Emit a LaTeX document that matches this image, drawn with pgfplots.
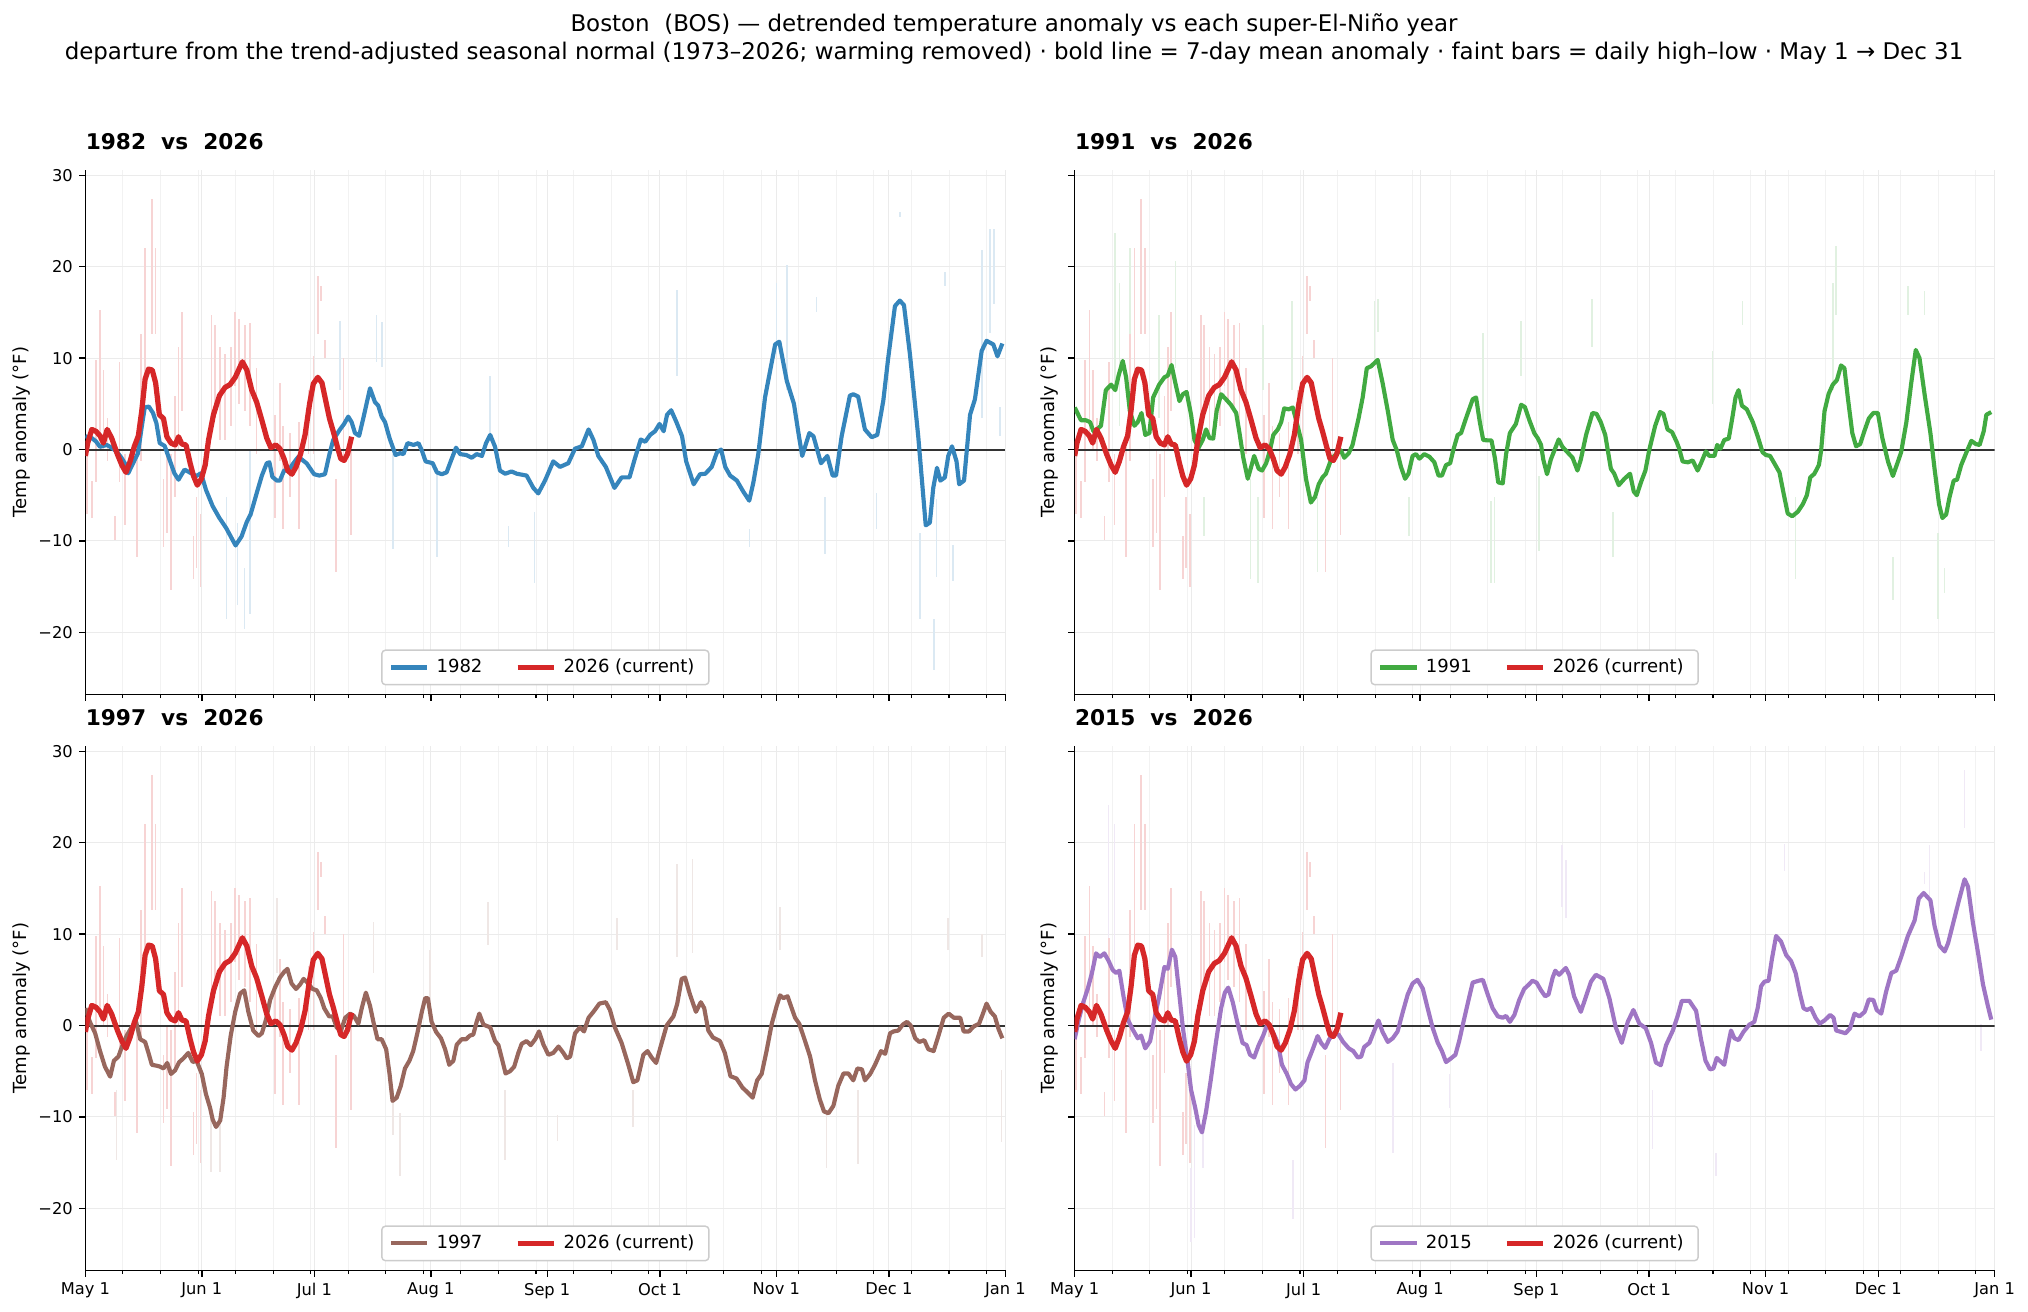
\documentclass[border=0pt]{standalone}
\usepackage{pgfplots}
\pgfplotsset{compat=1.18}
\usepackage{pgfplotstable}
\usepackage{fontspec}
\setmainfont{DejaVu Sans}

\definecolor{cblue}{HTML}{3585BC}
\definecolor{cgreen}{HTML}{41AA41}
\definecolor{cbrown}{HTML}{98675D}
\definecolor{cpurple}{HTML}{9F76C4}
\definecolor{cred}{HTML}{D62728}

% ---- 7-day mean anomaly, 2026 ----
\pgfplotstableread{
d v
0 -0.7
0.6 0.7
1.7 2.2
2.8 2.0
3.9 1.5
4.8 0.7
5.8 2.2
7 1.25
8.5 -0.5
9.7 -1.7
10.8 -2.5
11.9 -1.3
13 0.3
14.1 1.5
15 4.2
15.9 7.7
16.8 8.8
17.8 8.7
18.7 7.3
19.7 3.8
20.8 3.4
21.7 1.4
22.8 0.7
23.9 0.5
24.8 1.4
25.7 0.6
26.8 0.5
27.9 -1.5
28.8 -2.9
29.8 -3.9
30.9 -3.2
31.9 -1.7
32.8 1.05
34.1 3.8
35.7 5.9
37.2 6.8
38.5 7.1
39.9 7.9
41.8 9.6
43 8.7
44.3 6.5
45.6 5.2
47 3.2
48.3 1.25
49.4 0.2
50.7 0.5
51.8 0.1
52.9 -1.0
53.9 -2.3
55 -2.7
56.1 -1.9
57.3 -0.5
58.5 1.6
59.7 5.0
60.7 7.2
61.9 7.9
63 7.3
64 5.35
65 3.4
66 2.0
67.1 0.3
68 -1.0
68.9 -1.2
69.8 -0.5
70.9 1.4
}\tabred

% ---- daily high-low bars, 2026 ----
\pgfplotstableread{
d lo hi
0.4 -7.1 1.25
1.7 -7.5 -3.4
2.8 -3.6 9.8
3.9 1.4 15.3
4.8 -0.1 8.7
5.9 -1.3 3.4
7.9 -9.9 -7.3
9.1 -3.6 9.6
10.6 -8.3 -0.5
13.7 -11.8 0.3
14.8 -1.3 12.6
15.9 6.5 22.1
17.7 12.6 27.4
18.7 12.6 22.1
20.8 -10.7 -3.2
21.8 -9.1 -0.1
22.8 -15.4 -0.5
23.9 -5.2 5.9
24.8 -0.1 11.2
25.7 4.2 15.1
28.8 -14.2 -9.5
29.6 -13 -5.2
30.7 -15 -7.1
33.6 2.6 14.7
34.5 3.4 13.6
35.9 1.05 11.2
37.2 1.05 10.4
38.7 2.6 11.2
39.9 6.9 15.1
40.9 5.0 14.3
42.5 4.2 13.6
43.9 2.6 13.9
45.6 -0.5 8.9
50.5 -7.5 3.8
51.8 -1.3 7.3
52.7 -8.7 2.6
54.5 -5.2 1.8
56.9 -8.7 3.0
59.4 -0.5 6.5
60.7 -0.5 10.2
61.9 12.6 19
62.7 16.3 17.9
63.8 10 12
66.8 -13.4 -3.2
68.7 -1.3 10
70.8 -9.3 1.4
}\barred

% ---- 1982 ----
\pgfplotstableread{
d v
0 1.45
1.7 1.25
2.8 0.9
3.9 0.3
5.7 0.5
7 0.2
8.5 -0.3
9.6 -0.9
10.5 -1.5
11.4 -2.6
12.7 -1.5
14 -0.4
14.9 2.2
15.8 4.6
16.9 4.7
18 4.0
18.9 2.9
19.8 0.7
21.1 0.4
22.4 -1.1
23.7 -2.6
24.8 -3.3
26.4 -2.2
28.2 -2.6
29.5 -2.9
30.8 -2.6
32.1 -4.4
33.9 -6.2
35.7 -7.5
37.5 -8.6
40 -10.5
41.6 -9.5
43 -7.9
44 -7.1
45.6 -4.8
47 -2.85
48.3 -1.5
49 -1.4
49.8 -3.0
51 -3.4
51.8 -3.4
52.9 -2.3
54.1 -2.3
55.4 -1.5
56.7 -0.8
58.9 -1.5
60.9 -2.7
62.3 -2.85
63.8 -2.7
65 -0.5
66 1.05
67.8 2.2
68.9 2.8
70 3.6
70.9 3.0
71.8 1.8
72.9 1.5
74 3.4
75.8 6.7
77.1 5.2
78 4.8
78.9 3.6
79.8 3.0
81 1.25
82.6 -0.6
83.8 -0.4
84.7 -0.5
85.8 0.7
87.4 0.5
88.7 0.7
89.6 -0.1
90.6 -1.3
92.5 -1.5
93.6 -2.5
94.9 -2.7
96.2 -2.5
97.1 -1.5
98.7 0.2
99.8 -0.5
101.4 -0.6
102.9 -0.9
104.2 -0.5
105.6 -0.7
106.7 0.7
107.8 1.6
109.1 0.3
110.4 -2.3
111.8 -2.65
113.5 -2.4
114.9 -2.65
117.5 -2.85
119.3 -4.2
120.6 -4.8
122.4 -3.4
124.6 -1.3
126.4 -1.9
128.6 -1.5
130.4 0.1
132.2 0.35
134 2.2
135.3 1.05
136.6 -0.7
138.6 -1.9
140.9 -4.2
142.8 -3.05
144.9 -3.05
146.4 -0.9
147.9 1.1
149.1 0.85
150.4 1.6
151.7 2.0
152.9 2.8
154 2.0
154.9 3.8
156 4.3
157.4 3.0
158.9 1.45
160 -1.3
162 -3.8
163.7 -2.7
165.1 -2.65
166.8 -1.9
168.2 -0.3
169.3 0
170.4 -1.9
171.7 -2.85
173.5 -3.4
175.2 -4.6
176.8 -5.6
177.9 -3.6
179.2 -0.5
181 5.7
182.3 8.5
183.7 11.5
184.8 11.8
186.8 7.5
188.7 5.0
189.9 1.8
190.9 -0.7
192.8 1.8
193.9 1.45
195.9 -1.5
197.6 -0.7
199 -2.85
199.9 -2.85
201.4 1.45
203.6 5.9
204.5 6.05
205.8 5.8
207.6 2.2
209.4 1.35
210.9 1.6
212.5 5.35
213.8 10.0
215.6 15.7
216.9 16.3
218 15.8
219.6 10.4
221.8 1.45
223.8 -8.3
224.9 -8.0
225.8 -4.2
226.8 -2.0
227.7 -3.4
228.9 -3.05
229.8 -0.7
230.8 0.35
232 -1.3
232.7 -3.8
234 -3.4
235.6 3.8
236.9 5.5
238.7 10.8
240 11.9
241.8 11.5
242.9 10.2
244.2 11.6
}\tabA
\pgfplotstableread{
d lo hi
37.6 -18.5 -5.2
40.5 -17 -8
42.4 -19.6 -13
43.9 -18 0
67.8 6.5 14.1
77.5 9.6 14.7
79 9 14
82 -10.9 -0.5
93.6 -11.8 -2
107.8 1.8 8.1
112.7 -10.7 -8.4
119.6 -14.6 -6.8
157.6 8.1 17.5
176.9 -10.7 -8.7
184.1 10.4 18.2
186.8 6.5 20.2
194.7 15.1 16.7
196.9 -11.4 -5.2
210.7 -8.7 -4.8
216.9 25.5 26
222.3 -18.5 -9.1
226 -24.1 -18.5
226.7 -14 -5.4
228.9 17.9 19.4
231.1 -14.4 -10.5
238.7 3.4 21.8
240.9 12.8 24.1
241.9 15.9 24.1
243.5 1.5 4.6
}\barA

% ---- 1991 ----
\pgfplotstableread{
d v
0 4.6
1.7 3.2
3 3.2
4.1 3.0
5 2.0
5.9 2.2
7 2.6
8.3 6.5
9.7 7.1
10.8 6.5
11.7 8.1
12.8 9.7
13.7 7.9
14.7 4.2
15.9 2.6
16.8 3.0
17.8 4.0
18.8 1.6
19.9 1.8
20.9 5.7
22.5 7.1
23.9 7.9
24.8 8.1
25.8 9.25
26.8 7.3
27.9 5.3
28.8 6.05
29.8 6.3
31 3.8
31.9 1.05
33 0.2
34.1 1.05
35 2.2
35.9 1.25
36.9 1.2
37.8 4.2
39 6.05
40.3 5.5
41.6 4.9
43 4.0
43.9 1.8
44.9 -0.9
46.1 -3.2
47 -1.9
47.8 -0.7
49 -2.1
49.9 -2.3
51 -1.5
52 -0.1
52.9 1.6
54.1 2.2
55 3.0
55.8 4.5
57 4.4
58.1 4.6
59.1 3.0
60.3 1.05
61.6 -3.2
62.9 -5.8
64 -5.2
65 -3.8
66 -3.05
66.9 -2.65
68.3 -1.1
69.6 -0.5
70.9 -0.1
71.8 -0.9
73 -0.4
74 0.5
75.6 3.4
76.7 5.7
77.8 8.9
78.9 9.1
79.8 9.45
80.7 9.8
82 7.3
83.4 4.2
84.7 1.05
85.8 -0.1
86.9 -1.9
88 -3.2
88.9 -2.65
90 -0.7
90.9 -0.5
91.8 -1.0
93.1 -0.5
94.5 -0.8
95.8 -1.4
96.9 -2.85
97.8 -2.85
98.9 -1.7
100 -1.5
100.8 -0.1
102 1.6
102.9 1.8
104.2 3.4
106 5.5
106.9 5.7
107.9 3.0
108.8 1.05
110 1.0
111 1.0
111.9 -0.9
112.8 -3.6
114 -3.7
114.9 -0.5
115.9 1.8
117.5 2.8
118.9 4.9
119.9 4.65
121.1 3.2
122.4 1.8
123.3 1.25
124.2 0.5
124.8 -1.1
125.8 -2.7
126.8 -1.1
128.9 1.1
129.9 0.3
131.7 -0.5
132.6 -0.9
133.9 -2.3
134.8 -1.1
136.2 1.6
137.9 4.0
139 3.9
140.1 3.0
141.3 1.6
142.8 -2.1
143.7 -2.65
144.9 -3.9
146.4 -3.2
147.9 -2.65
148.9 -4.6
149.7 -5.0
150.8 -3.6
152 -2.3
153 -0.1
154.6 2.6
155.9 4.1
156.8 3.9
157.9 2.2
159.1 1.9
160.3 0.85
161 0.1
161.9 -1.3
163.3 -1.4
164.6 -1.2
165.9 -2.3
166.8 -1.5
168.1 -0.2
169 -0.7
170.4 -0.7
171.1 0.5
172 0.1
173 1.05
174.2 1.2
175.2 3.6
176 5.7
176.8 6.5
177.7 4.8
179 4.4
180.6 3.0
181.9 1.45
183.2 -0.3
184.1 -0.6
185.2 -0.7
186.6 -1.7
187.7 -2.5
188.8 -4.8
189.9 -7.0
191.1 -7.3
192.6 -6.8
193.9 -6.0
195 -5.0
195.9 -3.05
197 -2.65
198.2 -1.7
198.8 -0.1
199.7 4.2
200.8 6.1
201.9 7.1
203 7.6
204.1 9.2
205 8.9
205.9 5.7
207.1 1.8
208.1 0.35
209.2 0.6
210.3 2.0
211.5 3.4
212.7 4.0
213.9 4.0
215.1 1.25
216.6 -1.3
217.9 -2.9
219.1 -1.5
220.1 -0.3
221.5 3.0
222.8 7.3
224 10.9
225 10.0
226.4 5.9
227.9 1.8
229 -2.1
230.2 -6.0
231.1 -7.5
232.1 -7.1
233 -5.2
234.1 -3.4
235 -3.3
236.1 -1.7
237.5 -0.3
238.8 0.95
240 0.6
241 0.5
242.1 2.0
242.8 3.8
244.1 4.1
}\tabB
\pgfplotstableread{
d lo hi
10.8 6.5 23.7
11.9 2.6 18.2
14.8 10.4 22.1
22.5 3.4 14.7
26.8 8.9 20.6
34.5 -9.5 -5.2
46.8 -14.2 -3.2
48.9 -14.6 -5.2
50.1 6.5 13.6
57.8 6.5 16.3
64.7 -13.4 -5.2
79.8 9.6 16.3
80.7 12.9 16.5
89.1 -9.5 -5.2
108.7 2.6 12.8
110.9 -14.6 -5.6
111.8 -14.6 -5.2
118.9 8.1 14.1
123.7 -11.1 -2.9
137.8 11.2 16.5
143.4 -11.8 -6.8
169.9 5.0 10.8
177.9 13.6 16.3
192 -14.2 -5.2
201.9 6.5 18.2
202.8 14.7 22.3
217.9 -16.5 -11.8
221.9 14.7 17.9
226.3 14.7 17.3
229.9 -18.5 -9.1
231.7 -15.7 -13
}\barB

% ---- 1997 ----
\pgfplotstableread{
d v
0 1.9
1.2 0.4
2.6 -0.85
3.9 -2.8
5.2 -4.5
6.6 -5.6
7.6 -3.85
8.8 -3.4
9.7 -2.35
11 -1.1
12.3 -0.2
13.5 0.4
14.6 -1.5
15.9 -1.8
16.8 -3.0
17.7 -4.3
19 -4.4
19.9 -4.5
20.8 -4.7
21.8 -4.1
22.8 -5.3
23.9 -4.9
25 -4.0
26.1 -3.6
27.4 -3.0
28.6 -4.0
29.6 -3.85
31 -5.3
32.1 -7.5
33.2 -9.0
33.9 -10.3
34.8 -11.1
35.9 -10.4
36.8 -7.9
37.6 -4.5
38.7 -1.1
39.9 1.5
41.2 3.5
42.3 3.85
43.4 1.5
44.7 -0.55
46.1 -1.15
47 -0.85
48.1 0.65
49.2 2.8
50.5 4.15
51.8 5.25
52.9 5.85
53.8 6.2
54.9 4.6
56.1 4.0
57.2 4.5
58.1 5.1
59.1 4.7
60.5 4.0
61.6 3.85
62.7 3.0
63.6 1.9
64.9 1.0
65.9 1.0
66.9 -0.2
68 -0.65
69.2 0.85
70.5 1.3
71.5 1.05
72.7 0.2
73.6 1.9
74.7 3.6
75.8 2.15
76.7 0.4
77.8 -1.5
78.9 -1.5
80.1 -2.6
81 -5.3
81.8 -8.25
82.9 -7.9
84 -6.6
85.1 -4.7
86.3 -3.85
87.3 -2.8
88.4 -0.85
89.6 1.5
90.5 3.0
91.2 3.0
92.2 0.4
93.4 -0.7
94.7 -1.4
95.8 -2.6
96.9 -4.3
98 -3.85
98.9 -2.1
100.2 -1.5
101.4 -1.5
102.4 -1.1
103.3 -1.0
104.2 0.4
104.9 1.3
106 0.1
107.8 -0.2
109.1 -1.7
110 -2.15
110.9 -3.6
111.9 -5.25
113.1 -5.0
114.2 -4.5
115.3 -3.0
116.2 -2.0
117.5 -1.7
118.6 -2.15
119.8 -1.5
120.8 -0.65
122 -2.1
123.3 -3.2
124.6 -3.0
126 -2.3
127.3 -3.0
128.2 -3.6
129.1 -3.4
130.4 -0.85
131.7 -0.2
132.8 -0.65
134 0.85
135.3 1.5
136.9 2.4
138.6 2.55
139.7 1.7
141 -0.2
142.8 -1.9
144.6 -4.3
145.9 -6.2
147 -6.0
148.6 -3.2
149.7 -2.8
150.8 -3.5
152 -4.1
153 -2.6
154.8 0
156.6 1.0
157.6 2.35
158.8 5.1
159.7 5.25
161 3.4
162.6 1.5
163.9 2.55
164.8 1.9
165.9 -0.55
167.1 -1.3
169 -1.7
170.3 -3.0
171.8 -5.55
173.4 -5.8
175 -6.8
176.3 -7.3
177.7 -7.9
178.9 -6.0
180.1 -5.3
181.4 -2.8
182.8 0.2
184.1 2.15
185 3.3
185.9 3.0
187 3.2
188.1 1.9
189 0.85
190.1 0.2
191.5 -1.5
193 -3.4
194.3 -6.0
195.6 -8.1
196.7 -9.4
197.9 -9.6
199.2 -8.8
200.5 -6.6
201.9 -5.25
203.2 -5.25
204.5 -6.0
205.6 -4.7
206.8 -4.8
207.6 -6.0
209 -5.3
210.3 -4.3
211.9 -2.8
213 -3.1
214.3 -0.85
215.2 -0.65
216.5 -0.55
217.7 0.1
218.8 0.4
219.8 0
221 -1.4
222.1 -1.8
223.4 -1.6
224.5 -2.6
225.9 -2.8
227.2 -1.1
228.6 0.85
229.9 1.3
231.3 0.85
233 0.85
233.9 -0.65
235.3 -0.65
236.6 -0.1
238 0.2
238.9 1.15
240 2.4
241.1 1.5
242.2 1.0
243.2 -0.4
244.2 -1.4
}\tabC
\pgfplotstableread{
d lo hi
8.3 -14.7 -7.1
33.5 -16 -9.2
35.9 -16 -9
51 5.8 13.9
76.7 5.8 11.3
82 -12 -7
83.8 -16.5 -9.6
91.8 1.5 8.3
107.3 8.8 13.5
111.8 -14.7 -7.1
125.7 -12.6 -9.8
141.5 8.3 11.8
145.9 -11.1 -7.1
157.6 7.5 17.7
161.7 7.9 18.2
185 8.3 13
197.4 -15.6 -9.2
205.8 -15.2 -7.1
229.8 8.3 11.8
238.7 7.5 10
244 -12.8 -4.9
}\barC

% ---- 2015 ----
\pgfplotstableread{
d v
0 -1.5
1.1 0.65
2.3 2.55
3.5 4.05
4.6 5.75
5.7 7.9
6.7 7.5
7.9 7.9
9 7.1
10.1 6.1
11 5.75
11.9 6.0
13 3.2
14.1 0.7
15.4 -0.4
16.8 -1.4
17.7 -1.1
18.8 -2.5
20.1 -1.7
21.2 0.65
22.5 3.2
23.9 6.4
24.8 6.2
25.9 8.3
26.8 7.5
27.7 4.05
28.8 -0.2
30.1 -4.05
31 -7.05
32.1 -9.0
33 -10.9
33.9 -11.7
35 -9.4
36.3 -5.8
37.6 -1.9
39 1.9
40 3.6
40.9 4.15
42.1 2.55
43.4 0.2
44.7 -1.9
45.8 -2.15
46.7 -3.2
47.8 -3.5
49 -2.15
50.2 -1.1
51.4 0.2
52.7 -0.65
54.1 -1.9
55.2 -4.3
56.5 -5.3
57.6 -6.4
58.8 -7.0
60 -6.6
61.2 -6.0
62 -4.05
63.4 -2.6
64.7 -1.15
65.6 -1.9
66.7 -2.45
67.8 -1.5
68.9 -0.85
70.3 -1.0
71.5 -1.8
73 -2.5
74.2 -2.8
75.4 -3.5
76.3 -3.4
77.1 -2.35
78.5 -1.9
79.8 -0.55
80.9 0.55
82 -0.7
83.4 -1.8
84.7 -1.4
86 -0.65
87.4 1.5
88.7 3.4
90 4.6
91.3 5.0
92.7 4.05
94 1.9
95.3 -0.2
96.7 -1.9
97.8 -2.8
98.9 -4.0
100.2 -3.6
101.4 -3.2
102.4 -1.7
103.8 0.85
104.9 2.8
106 4.7
107.6 4.9
108.7 5.0
110 3.4
111.3 1.9
112.7 1.0
114 0.85
114.9 1.05
115.9 0.4
117.1 1.15
118.4 2.8
119.7 4.0
121 4.5
121.9 4.9
123 4.7
124.2 3.85
125.3 3.2
126.2 3.4
127.3 5.25
128 6.0
129 5.55
130.8 6.3
131.7 5.55
133 3.2
134.8 1.5
136.2 3.2
137.5 4.8
138.8 5.55
140.8 5.1
142.4 3.0
144.1 -0.2
145.7 -1.9
147.3 0.4
148.8 1.7
150.4 0.2
152.1 -0.3
153.5 -1.9
154.8 -4.05
156.1 -4.35
157.5 -2.15
159.3 -0.55
160.6 1.05
161.7 2.7
163.7 2.7
165.5 1.6
166.8 -1.5
168 -3.85
169.2 -4.8
170.1 -4.7
171 -3.55
173 -4.3
173.9 -2.35
174.8 -0.55
175.7 -1.4
176.8 -1.6
178.1 -0.7
179.7 0.1
181 0.4
181.9 1.9
182.8 4.3
183.7 4.8
184.8 4.9
185.7 7.3
186.8 9.8
188.1 9.2
189.5 7.7
190.8 7.05
192 5.75
193.2 3.4
194.1 1.9
195 1.7
196.1 1.9
197.3 0.85
198.4 0.2
199.7 0.55
201.2 1.15
202.1 0.85
202.8 -0.55
204.1 -0.7
205.3 -0.85
206.5 -0.3
207.7 1.3
209 1.0
210.4 1.5
211.5 2.85
212.7 2.8
213.6 1.7
214.8 1.3
216.1 3.7
217.5 5.75
218.8 6.0
220.1 7.5
221.9 9.8
223.7 11.5
224.8 13.9
226.1 14.5
227.9 13.7
229 10.9
230.3 8.75
231.7 8.1
232.6 9.0
233.9 11.1
235.5 13.7
237 16.0
237.9 15.2
239.2 11.3
240.6 7.9
241.9 4.5
243.2 2.15
244.1 0.65
}\tabD
\pgfplotstableread{
d lo hi
9 8.3 24.1
10.6 5.7 22
31 -23.7 -15.6
31.9 -23.3 -10.9
34.1 -15.6 -11.3
58.1 -21.2 -14.7
84.7 -13.9 -4.1
99.8 -9 -5.3
129.8 13 19.7
130.9 11.8 18.1
153.9 -13.5 -7.1
170.8 -16.5 -13.9
189 16.9 19.9
226.3 15.5 16.8
227.7 13.7 19.7
237 21.6 28
241.4 -2.8 0.2
}\barD

\pgfplotsset{
  panel/.style={
    width=509.5pt, height=290.5pt, scale only axis,
    xmin=0, xmax=245, ymin=-26.8, ymax=30.6,
    axis x line*=bottom, axis y line*=left,
    axis line style={line width=0.8pt, black},
    tick align=outside,
    major tick length=3.5pt, minor tick length=2pt,
    major tick style={black, line width=0.8pt},
    minor tick style={black, line width=0.6pt},
    xtick={0,31,61,92,123,153,184,214,245},
    minor xtick={10,20,...,240},
    ytick={-20,-10,0,10,20,30},
    xmajorgrids, ymajorgrids, xminorgrids,
    major grid style={black!8, line width=0.6pt},
    minor grid style={black!5, line width=0.5pt},
    tick label style={font=\fontsize{9}{10}\selectfont},
    /pgf/number format/assume math mode=true,
    title style={at={(0,1)}, anchor=base west, yshift=5.5pt, inner sep=0pt,
      font=\bfseries\fontsize{12}{14}\selectfont},
    ylabel={Temp anomaly (°F)},
    ylabel style={font=\fontsize{10}{12}\selectfont, anchor=center},
    legend columns=2,
    legend cell align=left,
    legend style={at={(0.5,0)}, anchor=south, yshift=5pt,
      draw=black!20, line width=0.8pt, rounded corners=2pt, fill=white,
      font=\fontsize{10}{12}\selectfont,
      inner xsep=4pt, inner ysep=3pt,
      /tikz/every even column/.append style={column sep=14pt},
      nodes={inner xsep=4pt, inner ysep=2pt}},
    legend image code/.code={\draw[##1] (0pt,0pt) -- (20pt,0pt);},
  },
  leftp/.style={yticklabels={−20,−10,0,10,20,30},
    ylabel style={at={(axis description cs:-0.0695,0.5)}}},
  rightp/.style={yticklabels={},
    ylabel style={at={(axis description cs:-0.0269,0.5)}}},
  topp/.style={xticklabels={}},
  botp/.style={xticklabels={May 1,Jun 1,Jul 1,Aug 1,Sep 1,Oct 1,Nov 1,Dec 1,Jan 1}},
  yr/.style={line width=2.3pt, line join=round, #1},
  cur/.style={line width=2.9pt, line join=round, cred},
  zero/.style={forget plot, black!80, line width=1.1pt},
  hl/.style={forget plot, draw=none, mark=none,
    error bars/.cd, y dir=both, y explicit, error mark=none,
    error bar style={draw=#1, line width=0.9pt}},
}
\newcommand{\bars}[3]{%
  \addplot[hl={#1!#2!white}] table[x=d,
    y expr=(\thisrow{lo}+\thisrow{hi})/2,
    y error expr=(\thisrow{hi}-\thisrow{lo})/2] {#3};}

\begin{document}
\begin{tikzpicture}
\path[use as bounding box] (0pt,0pt) rectangle (1123.2pt,726.6pt);

\node[anchor=base, font=\fontsize{12.7}{15}\selectfont] at (561.6pt,709pt)
  {Boston\ \ (BOS) — detrended temperature anomaly vs each super-El-Niño year};
\node[anchor=base, font=\fontsize{12.7}{15}\selectfont] at (561.6pt,693.4pt)
  {departure from the trend-adjusted seasonal normal (1973–2026; warming removed) · bold line = 7-day mean anomaly · faint bars = daily high–low · May 1 → Dec 31};

% top-left 1982
\begin{axis}[panel, leftp, topp, at={(47.3pt,342pt)}, anchor=south west,
  title={1982\ \ vs\ \ 2026}]
\bars{cblue}{18}{\barA}
\bars{cred}{20}{\barred}
\addplot[zero] coordinates {(0,0) (245,0)};
\addplot[yr=cblue] table[x=d,y=v] {\tabA};
\addlegendentry{1982}
\addplot[cur] table[x=d,y=v] {\tabred};
\addlegendentry{2026 (current)}
\end{axis}

% top-right 1991
\begin{axis}[panel, rightp, topp, at={(595.2pt,342pt)}, anchor=south west,
  title={1991\ \ vs\ \ 2026}]
\bars{cgreen}{16}{\barB}
\bars{cred}{20}{\barred}
\addplot[zero] coordinates {(0,0) (245,0)};
\addplot[yr=cgreen] table[x=d,y=v] {\tabB};
\addlegendentry{1991}
\addplot[cur] table[x=d,y=v] {\tabred};
\addlegendentry{2026 (current)}
\end{axis}

% bottom-left 1997
\begin{axis}[panel, leftp, botp, at={(47.3pt,23pt)}, anchor=south west,
  title={1997\ \ vs\ \ 2026}]
\bars{cbrown}{16}{\barC}
\bars{cred}{20}{\barred}
\addplot[zero] coordinates {(0,0) (245,0)};
\addplot[yr=cbrown] table[x=d,y=v] {\tabC};
\addlegendentry{1997}
\addplot[cur] table[x=d,y=v] {\tabred};
\addlegendentry{2026 (current)}
\end{axis}

% bottom-right 2015
\begin{axis}[panel, rightp, botp, at={(595.2pt,23pt)}, anchor=south west,
  title={2015\ \ vs\ \ 2026}]
\bars{cpurple}{16}{\barD}
\bars{cred}{20}{\barred}
\addplot[zero] coordinates {(0,0) (245,0)};
\addplot[yr=cpurple] table[x=d,y=v] {\tabD};
\addlegendentry{2015}
\addplot[cur] table[x=d,y=v] {\tabred};
\addlegendentry{2026 (current)}
\end{axis}
\end{tikzpicture}
\end{document}
